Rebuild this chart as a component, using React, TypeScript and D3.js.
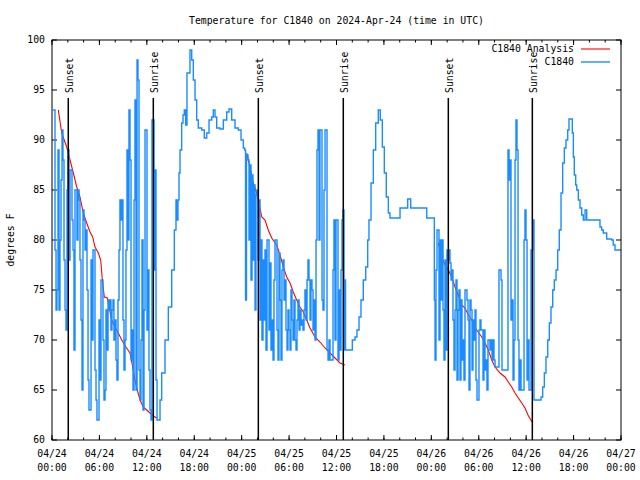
import * as React from "react";
import * as d3 from "d3";

// hours since 2024-04-24 00:00 UTC, temperature in degrees F
const obsC1840: [number, number][] = [
  [0.13,93],[0.25,93],[0.38,79],[0.51,73],[0.63,75],[0.76,89],[0.89,73],[1.01,80],[1.14,86],[1.27,91],[1.39,88],[1.52,78],[1.65,73],[1.77,71],[1.90,85],[2.02,89],[2.15,78],[2.28,87],[2.40,87],[2.53,82],[2.66,79],[2.78,69],[2.91,85],[3.04,85],[3.16,80],[3.29,85],[3.42,84],[3.54,78],[3.67,72],[3.80,65],[3.92,83],[4.05,82],[4.18,79],[4.30,81],[4.43,75],[4.56,66],[4.68,63],[4.81,63],[4.94,78],[5.06,70],[5.19,79],[5.31,79],[5.44,67],[5.57,64],[5.69,62],[5.82,62],[5.95,72],[6.07,66],[6.20,76],[6.33,76],[6.45,70],[6.58,64],[6.71,65],[6.83,73],[6.96,69],[7.09,74],[7.21,73],[7.34,74],[7.46,71],[7.59,73],[7.72,74],[7.84,70],[7.97,72],[8.10,68],[8.22,66],[8.35,74],[8.48,79],[8.60,84],[8.73,82],[8.86,84],[8.98,72],[9.11,67],[9.24,70],[9.36,79],[9.49,89],[9.62,80],[9.74,93],[9.87,88],[10.00,68],[10.12,71],[10.25,65],[10.38,84],[10.50,94],[10.63,65],[10.76,98],[10.88,96],[11.01,67],[11.14,64],[11.26,70],[11.39,80],[11.52,63],[11.64,73],[11.77,91],[11.89,91],[12.02,71],[12.15,77],[12.27,67],[12.40,63],[12.53,62],[12.65,92],[12.78,92],[12.91,77],[13.03,87],[13.16,66],[13.29,62],[13.41,62],
  [13.67,64],[13.88,66.7],[14.30,70],[14.72,73.3],[15.15,77],[15.48,81],[15.69,84],[15.82,82],[15.94,84],[16.07,86.7],[16.20,89],[16.41,91.7],[16.58,92.5],[16.74,93],[16.92,91.5],[17.08,96.7],[17.46,99],[17.68,98],[17.88,96],[18.10,94],[18.31,92],[18.51,91.2],[18.94,91],[19.27,90.2],[19.58,90.7],[19.87,92],[20.21,92.3],[20.41,93],[20.63,92.3],[20.84,91.2],[21.26,91.1],[21.68,92],[22.11,92.8],[22.40,93.1],[22.74,92],[23.16,91.2],[23.57,91],[23.92,90],[24.21,89.2],
  [24.38,89],[24.49,74],[24.61,88.5],[24.80,88],[24.93,80],[25.05,87.5],[25.18,76],[25.31,86.5],[25.43,78],[25.56,85.5],[25.69,73],[25.81,84.5],[25.94,85],[26.07,78],[26.19,84],[26.32,72],[26.45,80],[26.57,70],[26.70,78],[26.83,72],[26.95,79],[27.08,69],[27.21,80],[27.33,80],[27.46,71],[27.59,77.7],[27.71,69],[27.84,72],[27.97,68],[28.09,76],[28.22,80],[28.35,80],[28.47,71],[28.60,68],[28.72,78.7],[28.85,74],[28.98,68],[29.10,77],[29.23,78],[29.36,74],[29.48,76],[29.61,71],[29.74,69],[29.86,73],[29.99,71],[30.12,69],[30.24,75],[30.37,72],[30.50,70],[30.62,74],[30.75,70],[30.88,69],[31.00,72],[31.13,74],[31.26,71],[31.38,73],[31.51,71.5],[31.64,72],[31.76,71],[31.89,73],[32.01,75],[32.14,72],[32.27,76],[32.39,78],[32.52,76],[32.65,72],[32.77,76],[32.90,75],[33.03,71],[33.15,74],[33.28,70],[33.41,80],[33.53,89],[33.66,91],[33.79,80],[33.91,91],[34.04,91],[34.17,74],[34.29,73],[34.42,85],[34.55,91],[34.67,91],[34.80,69],[34.93,68],[35.05,70],[35.18,68],[35.30,68],[35.43,68],[35.56,77],[35.68,82],[35.81,70],[35.94,82],[36.06,82],[36.19,68],[36.32,75],[36.44,69],[36.57,77],[36.70,82],[36.82,83],[36.95,69],[37.07,76],[37.14,69],[37.71,69],
  [38.00,70],[38.34,70.3],[38.59,71],[38.85,72.3],[39.10,74],[39.39,76],[39.70,77.3],[39.95,80],[40.11,82],[40.37,85.7],[40.66,89],[40.96,91.7],[41.29,93],[41.54,92],[41.80,89.3],[42.05,86.7],[42.30,84.3],[42.56,82.7],[42.77,82.2],[43.82,82.2],[44.04,83.2],[44.80,83.2],[45.01,84.1],[45.21,84.1],[45.39,83.2],[47.20,83.2],[47.42,82.2],[48.25,82.2],
  [48.38,74],[48.47,68],[48.59,77],[48.72,81],[48.85,81],[48.97,70],[49.10,80],[49.22,74],[49.35,80],[49.48,73],[49.60,68],[49.73,78],[49.86,69],[49.98,79],[50.11,78],[50.24,79],[50.36,77.7],[50.49,76],[50.62,77],[50.74,72],[50.87,67],[51.00,73],[51.12,76],[51.25,66],[51.38,73],[51.50,75],[51.63,66],[51.75,74],[51.88,68],[52.01,70],[52.13,66],[52.26,75],[52.39,75],[52.51,74],[52.64,72],[52.77,65],[52.89,74],[53.02,73],[53.15,67],[53.27,72],[53.40,70],[53.53,73],[53.65,66],[53.78,64],[53.91,64],[54.03,71],[54.16,72],[54.28,71],[54.41,71],[54.54,66],[54.66,71],[54.79,67],[54.92,68],[55.04,65],[55.17,70],[55.30,70],[55.42,69],[55.55,70],[55.68,68],[55.80,70],[55.93,68],[56.06,67.3],[56.44,67.3],[56.56,77],[56.69,77],[56.82,76],[56.94,67],[57.58,67],[57.70,89],[57.83,86],[57.96,88],[58.08,72],[58.21,74],[58.34,66],[58.46,70],[58.59,88],[58.71,92],[58.84,89],[58.97,70],[59.09,65],[59.22,68],[59.35,65],[59.60,65],[59.73,80],[59.85,83],[59.98,80],[60.11,66],[60.23,70],[60.36,65],[60.49,65],[60.61,79],[60.74,79],[60.87,82],[60.99,64],[61.75,64],
  [61.88,64.3],[62.09,65.3],[62.30,66.7],[62.51,68.3],[62.73,70],[62.93,71.7],[63.14,73.3],[63.36,75],[63.56,76],[63.78,77],[63.99,79],[64.19,81],[64.41,84.7],[64.62,87.7],[64.83,89.2],[65.04,90],[65.26,91],[65.42,92.1],[65.67,92.1],[65.84,90.7],[65.97,88.3],[66.09,86.5],[66.27,85.5],[66.40,85],[66.60,84],[66.81,83.2],[67.03,82.5],[67.23,82],[67.45,83],[67.66,82],[69.13,82],[69.34,81.3],[69.55,81],[69.76,80.7],[70.19,80.1],[70.82,80],[71.02,79.5],[71.24,79],[72.00,79],
];

const analysisNight1: [number, number][] = [
  [0.80,93],[1.23,90.7],[1.86,89.3],[2.28,88],[2.70,86.7],[3.13,85.3],[3.54,84.3],[3.96,82.7],[4.39,81.7],[4.81,80.8],[5.15,80.3],[5.44,79.3],[5.86,78.7],[6.16,78],[6.37,76],[6.62,74.3],[7.00,74.2],[7.25,73.2],[7.55,72],[7.97,71.3],[8.39,70.7],[8.82,70],[9.36,69.3],[9.87,68.7],[10.21,67.3],[10.50,66],[10.79,65],[11.14,64],[11.55,63.3],[11.98,63],[12.40,62.7],[12.82,62.4],[13.25,62.2],
];
const analysisNight2: [number, number][] = [
  [24.64,88.7],[25.05,87.3],[25.47,85.7],[25.90,84.7],[26.19,83.7],[26.54,82.3],[26.95,82],[27.37,81],[27.80,80.2],[28.43,79.5],[28.85,78.5],[29.27,77.3],[29.70,76.3],[30.12,75.7],[30.53,74.8],[30.96,74],[31.38,73.3],[31.80,72.8],[32.23,72],[32.65,71.2],[33.28,70.3],[33.91,69.8],[34.55,69.2],[35.18,68.7],[35.81,68.2],[36.44,67.7],[37.07,67.5],
];
const analysisNight3: [number, number][] = [
  [48.88,79.7],[49.31,78.3],[49.73,77.5],[50.15,77],[50.58,76.3],[51.00,75.3],[51.41,74.5],[51.84,73.5],[52.26,73.2],[52.68,72.5],[53.11,72],[53.74,71],[54.38,70.3],[54.79,69.7],[55.21,69],[55.64,68],[56.06,67.3],[56.69,66.7],[57.32,66.3],[57.74,65.8],[58.17,65.3],[58.59,64.7],[59.01,64.2],[59.44,63.7],[59.85,63.2],[60.23,62.5],[60.74,61.8],
];

const sunEvents = [
  { label: "Sunset", hour: 2.06 },
  { label: "Sunrise", hour: 12.82 },
  { label: "Sunset", hour: 26.11 },
  { label: "Sunrise", hour: 36.86 },
  { label: "Sunset", hour: 50.15 },
  { label: "Sunrise", hour: 60.78 },
];

const title = "Temperature for C1840 on 2024-Apr-24 (time in UTC)";
const yTicks = [60, 65, 70, 75, 80, 85, 90, 95, 100];

const START = Date.UTC(2024, 3, 24);
const toDate = (h: number) => new Date(START + h * 3600e3);

const W = 640, H = 480;
const margin = { top: 40, right: 19, bottom: 40, left: 52 };
const BLUE = "#1a8cff";
const FONT = "'DejaVu Sans Mono', 'Liberation Mono', monospace";

const App: React.FC = () => {
  const x = d3.scaleUtc().domain([toDate(0), toDate(72)]).range([margin.left, W - margin.right]);
  const y = d3.scaleLinear().domain([60, 100]).range([H - margin.bottom, margin.top]);
  const [x0, x1] = x.range();
  const [y0, y1] = y.range();

  const line = d3.line<[number, number]>()
    .x(d => x(toDate(d[0])))
    .y(d => y(d[1]));
  const steps = line.curve(d3.curveStepAfter);
  const redLine = d3.line<[number, number]>()
    .x(d => x(toDate(d[0])))
    .y(d => y(d[1]));

  const major = x.ticks(d3.utcHour.every(6)!);
  const minor = x.ticks(d3.utcHour.every(2)!);
  const fmtDay = d3.utcFormat("%m/%d");
  const fmtTime = d3.utcFormat("%H:%M");

  return (
    <svg width={W} height={H} style={{ position: "absolute", left: 0, top: 0, background: "#fff" }}
      fontFamily={FONT} fontSize={9.8}>
      <defs>
        <clipPath id="plot">
          <rect x={x0} y={y1} width={x1 - x0} height={y0 - y1} />
        </clipPath>
      </defs>

      <text x={(x0 + x1) / 2} y={24} textAnchor="middle">{title}</text>
      <text transform={`translate(14,${(y0 + y1) / 2}) rotate(-90)`} textAnchor="middle">degrees F</text>

      {/* y ticks, mirrored */}
      {yTicks.map(t => (
        <g key={"y" + t}>
          <line x1={x0} x2={x0 + 5} y1={y(t)} y2={y(t)} stroke="#000" />
          <line x1={x1} x2={x1 - 5} y1={y(t)} y2={y(t)} stroke="#000" />
          <text x={x0 - 7} y={y(t)} dy="0.35em" textAnchor="end">{t}</text>
        </g>
      ))}

      {/* x ticks, mirrored */}
      {minor.map((t, i) => (
        <g key={"m" + i}>
          <line x1={x(t)} x2={x(t)} y1={y0} y2={y0 - 2.5} stroke="#000" />
          <line x1={x(t)} x2={x(t)} y1={y1} y2={y1 + 2.5} stroke="#000" />
        </g>
      ))}
      {major.map((t, i) => (
        <g key={"M" + i}>
          <line x1={x(t)} x2={x(t)} y1={y0} y2={y0 - 5} stroke="#000" />
          <line x1={x(t)} x2={x(t)} y1={y1} y2={y1 + 5} stroke="#000" />
          <text x={x(t)} y={y0 + 17} textAnchor="middle">{fmtDay(t)}</text>
          <text x={x(t)} y={y0 + 31} textAnchor="middle">{fmtTime(t)}</text>
        </g>
      ))}

      <g clipPath="url(#plot)" fill="none">
        {[analysisNight1, analysisNight2, analysisNight3].map((s, i) => (
          <path key={"a" + i} d={redLine(s) ?? ""} stroke="#ff0000" strokeWidth={1.1} />
        ))}
        <path d={steps(obsC1840) ?? ""} stroke={BLUE} strokeWidth={1.4} />
      </g>

      {sunEvents.map((e, i) => {
        const sx = x(toDate(e.hour));
        return (
          <g key={"s" + i}>
            <line x1={sx} x2={sx} y1={y0} y2={y(94.2)} stroke="#000" strokeWidth={1.5} />
            <text transform={`translate(${sx + 5},${y(94.7)}) rotate(-90)`}>{e.label}</text>
          </g>
        );
      })}

      {/* legend */}
      <text x={574} y={49} dy="0.35em" textAnchor="end">C1840 Analysis</text>
      <line x1={581} x2={610} y1={49} y2={49} stroke="#ff0000" strokeWidth={1.1} />
      <text x={574} y={62} dy="0.35em" textAnchor="end">C1840</text>
      <line x1={581} x2={610} y1={62} y2={62} stroke={BLUE} strokeWidth={1.4} />

      <rect x={x0} y={y1} width={x1 - x0} height={y0 - y1} fill="none" stroke="#000" />
    </svg>
  );
};

export default App;
